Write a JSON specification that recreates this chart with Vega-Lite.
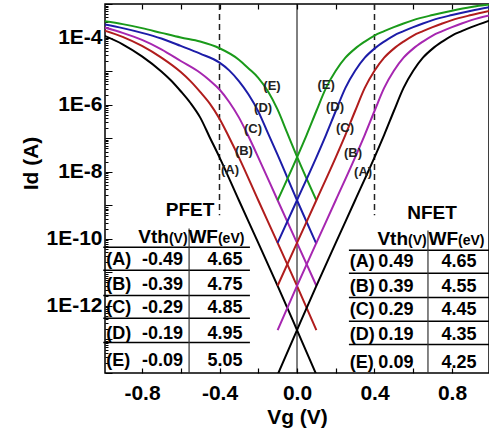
{
  "$schema": "https://vega.github.io/schema/vega-lite/v6.json",
  "width": 384,
  "height": 369,
  "autosize": {"type": "none"},
  "padding": {"left": 105, "top": 4, "right": 0, "bottom": 61},
  "background": "white",
  "config": {"view": {"stroke": "black", "strokeWidth": 1.5}, "font": "Liberation Sans"},
  "datasets": {
    "curves": [
      {"s":"PA","vg":-1,"id":1.17e-4},{"s":"PA","vg":-0.9,"id":6.31e-5},{"s":"PA","vg":-0.8,"id":2.75e-5},{"s":"PA","vg":-0.7,"id":9.77e-6},{"s":"PA","vg":-0.65,"id":5.25e-6},{"s":"PA","vg":-0.6,"id":2.51e-6},{"s":"PA","vg":-0.55,"id":1.12e-6},{"s":"PA","vg":-0.5,"id":4.17e-7},{"s":"PA","vg":-0.45,"id":1.05e-7},{"s":"PA","vg":-0.4,"id":2.69e-8},{"s":"PA","vg":-0.3,"id":1.41e-9},{"s":"PA","vg":-0.2,"id":7.59e-11},{"s":"PA","vg":-0.1,"id":3.98e-12},{"s":"PA","vg":0,"id":1.91e-13},{"s":"PA","vg":0.1,"id":8.91e-15},
      {"s":"PB","vg":-1,"id":1.66e-4},{"s":"PB","vg":-0.9,"id":1.05e-4},{"s":"PB","vg":-0.8,"id":5.62e-5},{"s":"PB","vg":-0.7,"id":2.51e-5},{"s":"PB","vg":-0.6,"id":9.33e-6},{"s":"PB","vg":-0.55,"id":5.01e-6},{"s":"PB","vg":-0.5,"id":2.40e-6},{"s":"PB","vg":-0.45,"id":1.07e-6},{"s":"PB","vg":-0.4,"id":3.80e-7},{"s":"PB","vg":-0.35,"id":1.05e-7},{"s":"PB","vg":-0.3,"id":2.69e-8},{"s":"PB","vg":-0.2,"id":1.41e-9},{"s":"PB","vg":-0.1,"id":7.59e-11},{"s":"PB","vg":0,"id":3.98e-12},{"s":"PB","vg":0.1,"id":1.91e-13},
      {"s":"PC","vg":-1,"id":2.04e-4},{"s":"PC","vg":-0.9,"id":1.38e-4},{"s":"PC","vg":-0.8,"id":8.51e-5},{"s":"PC","vg":-0.7,"id":4.47e-5},{"s":"PC","vg":-0.6,"id":2.00e-5},{"s":"PC","vg":-0.5,"id":8.91e-6},{"s":"PC","vg":-0.45,"id":5.25e-6},{"s":"PC","vg":-0.4,"id":2.82e-6},{"s":"PC","vg":-0.35,"id":1.20e-6},{"s":"PC","vg":-0.3,"id":4.17e-7},{"s":"PC","vg":-0.25,"id":1.12e-7},{"s":"PC","vg":-0.2,"id":2.69e-8},{"s":"PC","vg":-0.1,"id":1.41e-9},{"s":"PC","vg":0,"id":7.59e-11},{"s":"PC","vg":0.1,"id":3.98e-12},
      {"s":"PD","vg":-1,"id":2.51e-4},{"s":"PD","vg":-0.9,"id":1.91e-4},{"s":"PD","vg":-0.8,"id":1.38e-4},{"s":"PD","vg":-0.7,"id":9.33e-5},{"s":"PD","vg":-0.6,"id":5.62e-5},{"s":"PD","vg":-0.5,"id":3.31e-5},{"s":"PD","vg":-0.4,"id":1.78e-5},{"s":"PD","vg":-0.35,"id":1.05e-5},{"s":"PD","vg":-0.3,"id":5.01e-6},{"s":"PD","vg":-0.25,"id":2.00e-6},{"s":"PD","vg":-0.2,"id":6.31e-7},{"s":"PD","vg":-0.15,"id":1.41e-7},{"s":"PD","vg":-0.1,"id":3.16e-8},{"s":"PD","vg":0,"id":1.41e-9},{"s":"PD","vg":0.1,"id":7.08e-11},
      {"s":"PE","vg":-1,"id":3.09e-4},{"s":"PE","vg":-0.9,"id":2.51e-4},{"s":"PE","vg":-0.8,"id":1.91e-4},{"s":"PE","vg":-0.7,"id":1.38e-4},{"s":"PE","vg":-0.6,"id":1.00e-4},{"s":"PE","vg":-0.5,"id":7.59e-5},{"s":"PE","vg":-0.4,"id":4.79e-5},{"s":"PE","vg":-0.3,"id":2.19e-5},{"s":"PE","vg":-0.25,"id":1.20e-5},{"s":"PE","vg":-0.2,"id":6.31e-6},{"s":"PE","vg":-0.15,"id":2.51e-6},{"s":"PE","vg":-0.1,"id":7.08e-7},{"s":"PE","vg":-0.05,"id":1.41e-7},{"s":"PE","vg":0,"id":2.82e-8},{"s":"PE","vg":0.1,"id":1.41e-9},
      {"s":"NA","vg":-0.1,"id":8.91e-15},{"s":"NA","vg":0,"id":1.91e-13},{"s":"NA","vg":0.1,"id":3.98e-12},{"s":"NA","vg":0.2,"id":7.59e-11},{"s":"NA","vg":0.3,"id":1.41e-9},{"s":"NA","vg":0.4,"id":2.69e-8},{"s":"NA","vg":0.45,"id":1.26e-7},{"s":"NA","vg":0.5,"id":6.46e-7},{"s":"NA","vg":0.55,"id":3.16e-6},{"s":"NA","vg":0.6,"id":1.02e-5},{"s":"NA","vg":0.65,"id":2.51e-5},{"s":"NA","vg":0.7,"id":4.68e-5},{"s":"NA","vg":0.75,"id":7.59e-5},{"s":"NA","vg":0.8,"id":1.15e-4},{"s":"NA","vg":0.85,"id":1.55e-4},{"s":"NA","vg":0.9,"id":2.04e-4},{"s":"NA","vg":1.0,"id":3.31e-4},
      {"s":"NB","vg":-0.1,"id":1.91e-13},{"s":"NB","vg":0,"id":3.98e-12},{"s":"NB","vg":0.1,"id":7.59e-11},{"s":"NB","vg":0.2,"id":1.41e-9},{"s":"NB","vg":0.3,"id":2.69e-8},{"s":"NB","vg":0.35,"id":1.26e-7},{"s":"NB","vg":0.4,"id":6.46e-7},{"s":"NB","vg":0.45,"id":3.16e-6},{"s":"NB","vg":0.5,"id":1.02e-5},{"s":"NB","vg":0.55,"id":2.51e-5},{"s":"NB","vg":0.6,"id":4.68e-5},{"s":"NB","vg":0.65,"id":7.59e-5},{"s":"NB","vg":0.7,"id":1.15e-4},{"s":"NB","vg":0.75,"id":1.55e-4},{"s":"NB","vg":0.8,"id":2.04e-4},{"s":"NB","vg":0.85,"id":2.63e-4},{"s":"NB","vg":0.9,"id":3.31e-4},{"s":"NB","vg":1.0,"id":4.68e-4},
      {"s":"NC","vg":-0.1,"id":3.98e-12},{"s":"NC","vg":0,"id":7.59e-11},{"s":"NC","vg":0.1,"id":1.41e-9},{"s":"NC","vg":0.2,"id":2.69e-8},{"s":"NC","vg":0.25,"id":1.26e-7},{"s":"NC","vg":0.3,"id":6.46e-7},{"s":"NC","vg":0.35,"id":3.16e-6},{"s":"NC","vg":0.4,"id":1.02e-5},{"s":"NC","vg":0.45,"id":2.51e-5},{"s":"NC","vg":0.5,"id":4.68e-5},{"s":"NC","vg":0.55,"id":7.59e-5},{"s":"NC","vg":0.6,"id":1.15e-4},{"s":"NC","vg":0.65,"id":1.55e-4},{"s":"NC","vg":0.7,"id":2.04e-4},{"s":"NC","vg":0.75,"id":2.63e-4},{"s":"NC","vg":0.8,"id":3.31e-4},{"s":"NC","vg":0.9,"id":4.68e-4},{"s":"NC","vg":1.0,"id":6.31e-4},
      {"s":"ND","vg":-0.1,"id":7.59e-11},{"s":"ND","vg":0,"id":1.41e-9},{"s":"ND","vg":0.1,"id":2.69e-8},{"s":"ND","vg":0.15,"id":1.26e-7},{"s":"ND","vg":0.2,"id":6.46e-7},{"s":"ND","vg":0.25,"id":3.16e-6},{"s":"ND","vg":0.3,"id":1.02e-5},{"s":"ND","vg":0.35,"id":2.51e-5},{"s":"ND","vg":0.4,"id":4.68e-5},{"s":"ND","vg":0.45,"id":7.59e-5},{"s":"ND","vg":0.5,"id":1.15e-4},{"s":"ND","vg":0.55,"id":1.55e-4},{"s":"ND","vg":0.6,"id":2.04e-4},{"s":"ND","vg":0.65,"id":2.63e-4},{"s":"ND","vg":0.7,"id":3.31e-4},{"s":"ND","vg":0.8,"id":4.68e-4},{"s":"ND","vg":0.9,"id":6.31e-4},{"s":"ND","vg":1.0,"id":8.13e-4},
      {"s":"NE","vg":-0.1,"id":1.41e-9},{"s":"NE","vg":0,"id":2.69e-8},{"s":"NE","vg":0.05,"id":1.26e-7},{"s":"NE","vg":0.1,"id":6.46e-7},{"s":"NE","vg":0.15,"id":3.16e-6},{"s":"NE","vg":0.2,"id":1.02e-5},{"s":"NE","vg":0.25,"id":2.51e-5},{"s":"NE","vg":0.3,"id":4.68e-5},{"s":"NE","vg":0.35,"id":7.59e-5},{"s":"NE","vg":0.4,"id":1.15e-4},{"s":"NE","vg":0.45,"id":1.55e-4},{"s":"NE","vg":0.5,"id":2.04e-4},{"s":"NE","vg":0.55,"id":2.63e-4},{"s":"NE","vg":0.6,"id":3.31e-4},{"s":"NE","vg":0.7,"id":4.68e-4},{"s":"NE","vg":0.8,"id":6.31e-4},{"s":"NE","vg":0.9,"id":8.13e-4},{"s":"NE","vg":1.0,"id":9.77e-4}
    ],
    "table": [
      {"side":"P","lab":"(A)","vth":"-0.49","wf":"4.65","yv":2.29e-11},
      {"side":"P","lab":"(B)","vth":"-0.39","wf":"4.75","yv":4.07e-12},
      {"side":"P","lab":"(C)","vth":"-0.29","wf":"4.85","yv":8.51e-13},
      {"side":"P","lab":"(D)","vth":"-0.19","wf":"4.95","yv":1.41e-13},
      {"side":"P","lab":"(E)","vth":"-0.09","wf":"5.05","yv":2.34e-14},
      {"side":"N","lab":"(A)","vth":"0.49","wf":"4.65","yv":2.0e-11},
      {"side":"N","lab":"(B)","vth":"0.39","wf":"4.55","yv":3.55e-12},
      {"side":"N","lab":"(C)","vth":"0.29","wf":"4.45","yv":7.4e-13},
      {"side":"N","lab":"(D)","vth":"0.19","wf":"4.35","yv":1.32e-13},
      {"side":"N","lab":"(E)","vth":"0.09","wf":"4.25","yv":2.04e-14}
    ],
    "hlines": [
      {"xa":-1,"xb":-0.243,"yv":5.62e-11},{"xa":-1,"xb":-0.243,"yv":1.15e-11},{"xa":-1,"xb":-0.243,"yv":2.04e-12},{"xa":-1,"xb":-0.243,"yv":4.27e-13},{"xa":-1,"xb":-0.243,"yv":8.13e-14},
      {"xa":0.268,"xb":1,"yv":4.57e-11},{"xa":0.268,"xb":1,"yv":9.33e-12},{"xa":0.268,"xb":1,"yv":1.78e-12},{"xa":0.268,"xb":1,"yv":3.47e-13},{"xa":0.268,"xb":1,"yv":7.08e-14}
    ],
    "vlines": [
      {"xv":-0.557,"ya":2.04e-10,"yb":1e-14},
      {"xv":0.676,"ya":1.78e-10,"yb":1e-14}
    ],
    "hdr": [
      {"part":"main","t":"Vth","xv":-0.661,"yv":7.4e-11},
      {"part":"unit","t":"(V)","xv":-0.661,"yv":7.4e-11},
      {"part":"main","t":"WF","xv":-0.408,"yv":7.4e-11},
      {"part":"unit","t":"(eV)","xv":-0.408,"yv":7.4e-11},
      {"part":"main","t":"Vth","xv":0.573,"yv":6.5e-11},
      {"part":"unit","t":"(V)","xv":0.573,"yv":6.5e-11},
      {"part":"main","t":"WF","xv":0.831,"yv":6.5e-11},
      {"part":"unit","t":"(eV)","xv":0.831,"yv":6.5e-11}
    ],
    "titles": [
      {"t":"PFET","xv":-0.552,"yv":7.08e-10},
      {"t":"NFET","xv":0.697,"yv":5.75e-10}
    ],
    "clabels": [
      {"t":"(A)","xv":-0.346,"yv":1.10e-8},
      {"t":"(B)","xv":-0.274,"yv":4.07e-8},
      {"t":"(C)","xv":-0.227,"yv":1.86e-7},
      {"t":"(D)","xv":-0.175,"yv":7.94e-7},
      {"t":"(E)","xv":-0.129,"yv":3.55e-6},
      {"t":"(A)","xv":0.341,"yv":9.77e-9},
      {"t":"(B)","xv":0.289,"yv":3.55e-8},
      {"t":"(C)","xv":0.248,"yv":2.0e-7},
      {"t":"(D)","xv":0.196,"yv":8.5e-7},
      {"t":"(E)","xv":0.150,"yv":3.8e-6}
    ]
  },
  "resolve": {"axis": {"x": "independent", "y": "independent"}},
  "layer": [
    {
      "data": {"name": "hlines"},
      "mark": {"type": "rule", "color": "black", "strokeWidth": 1.5},
      "encoding": {
        "x": {"field": "xa", "type": "quantitative", "scale": {"domain": [-0.991, 0.991], "nice": false, "zero": false},
          "axis": {"orient": "bottom", "title": "Vg (V)", "values": [-0.8,-0.6,-0.4,-0.2,0,0.2,0.4,0.6,0.8],
            "labelExpr": "abs((datum.value*10) % 4) < 0.01 ? (datum.value < -0.01 ? '-' : '') + format(abs(datum.value), '.1f') : ''",
            "labelFont": "Liberation Sans", "labelFontSize": 21, "labelFontWeight": "bold", "labelColor": "black", "labelPadding": 14,
            "tickSize": -5, "tickColor": "black", "tickWidth": 1.2, "domain": false, "grid": false,
            "titleFont": "Liberation Sans", "titleFontSize": 21, "titleFontWeight": "bold", "titleColor": "black",
            "titleBaseline": "alphabetic", "titleY": 50}},
        "x2": {"field": "xb"},
        "y": {"field": "yv", "type": "quantitative", "scale": {"type": "log", "domain": [1e-14, 1e-3], "nice": false},
          "axis": {"orient": "left", "title": "Id (A)",
            "values": [1e-14,2e-14,3e-14,4e-14,5e-14,6e-14,7e-14,8e-14,9e-14,1e-13,2e-13,3e-13,4e-13,5e-13,6e-13,7e-13,8e-13,9e-13,1e-12,2e-12,3e-12,4e-12,5e-12,6e-12,7e-12,8e-12,9e-12,1e-11,2e-11,3e-11,4e-11,5e-11,6e-11,7e-11,8e-11,9e-11,1e-10,2e-10,3e-10,4e-10,5e-10,6e-10,7e-10,8e-10,9e-10,1e-9,2e-9,3e-9,4e-9,5e-9,6e-9,7e-9,8e-9,9e-9,1e-8,2e-8,3e-8,4e-8,5e-8,6e-8,7e-8,8e-8,9e-8,1e-7,2e-7,3e-7,4e-7,5e-7,6e-7,7e-7,8e-7,9e-7,1e-6,2e-6,3e-6,4e-6,5e-6,6e-6,7e-6,8e-6,9e-6,1e-5,2e-5,3e-5,4e-5,5e-5,6e-5,7e-5,8e-5,9e-5,1e-4,2e-4,3e-4,4e-4,5e-4,6e-4,7e-4,8e-4,9e-4,1e-3],
            "labelExpr": "(indexof([-12,-10,-8,-6,-4], round(log(datum.value)/LN10)) >= 0 && abs(log(datum.value)/LN10 - round(log(datum.value)/LN10)) < 0.001) ? '1E' + round(log(datum.value)/LN10) : ''",
            "tickSize": {"condition": {"test": "abs(log(datum.value)/LN10 - round(log(datum.value)/LN10)) < 0.001", "value": -7}, "value": -3},
            "tickColor": "black", "tickWidth": 1, "domain": false, "grid": false,
            "labelFont": "Liberation Sans", "labelFontSize": 21, "labelFontWeight": "bold", "labelColor": "black", "labelPadding": 10,
            "titleFont": "Liberation Sans", "titleFontSize": 21, "titleFontWeight": "bold", "titleColor": "black",
            "titleX": -68, "titleY": 159, "titleBaseline": "alphabetic", "titleAngle": -90, "titleAlign": "center"}}
      }
    },
    {
      "data": {"name": "vlines"},
      "mark": {"type": "rule", "color": "#333333", "strokeWidth": 1.2},
      "encoding": {
        "x": {"field": "xv", "type": "quantitative", "axis": null},
        "y": {"field": "ya", "type": "quantitative", "axis": null},
        "y2": {"field": "yb"}
      }
    },
    {
      "data": {"values": [{"vg": 0}]},
      "mark": {"type": "rule", "color": "black", "strokeWidth": 1},
      "encoding": {
        "x": {"field": "vg", "type": "quantitative",
          "axis": {"orient": "top", "values": [-0.8,-0.6,-0.4,-0.2,0,0.2,0.4,0.6,0.8], "labels": false, "tickSize": -5, "tickColor": "black", "tickWidth": 1.2, "domain": false, "grid": false, "title": null}}
      }
    },
    {
      "data": {"values": [{"vg": -0.4}, {"vg": 0.4}]},
      "mark": {"type": "rule", "color": "#222222", "strokeWidth": 1.5, "strokeDash": [6, 4]},
      "encoding": {
        "x": {"field": "vg", "type": "quantitative", "axis": null},
        "y": {"datum": 1e-3, "axis": null},
        "y2": {"datum": 5e-10}
      }
    },
    {
      "data": {"name": "curves"},
      "mark": {"type": "line", "interpolate": "monotone", "strokeWidth": 2, "clip": true},
      "encoding": {
        "x": {"field": "vg", "type": "quantitative", "axis": null},
        "y": {"field": "id", "type": "quantitative", "axis": null},
        "color": {"field": "s", "type": "nominal", "legend": null,
          "scale": {"domain": ["PA","PB","PC","PD","PE","NA","NB","NC","ND","NE"],
            "range": ["#000000","#b01c1c","#a626b0","#1c1ca8","#1a9a1a","#000000","#a626b0","#b01c1c","#1c1ca8","#1a9a1a"]}}
      }
    },
    {
      "data": {"name": "table"},
      "transform": [{"filter": "datum.side == 'P'"}],
      "mark": {"type": "text", "align": "left", "baseline": "middle", "font": "Liberation Sans", "fontSize": 18, "fontWeight": "bold", "color": "black"},
      "encoding": {"x": {"datum": -0.985, "axis": null}, "y": {"field": "yv", "type": "quantitative", "axis": null}, "text": {"field": "lab"}}
    },
    {
      "data": {"name": "table"},
      "transform": [{"filter": "datum.side == 'P'"}],
      "mark": {"type": "text", "align": "right", "baseline": "middle", "font": "Liberation Sans", "fontSize": 18, "fontWeight": "bold", "color": "black"},
      "encoding": {"x": {"datum": -0.588, "axis": null}, "y": {"field": "yv", "type": "quantitative", "axis": null}, "text": {"field": "vth"}}
    },
    {
      "data": {"name": "table"},
      "transform": [{"filter": "datum.side == 'P'"}],
      "mark": {"type": "text", "align": "center", "baseline": "middle", "font": "Liberation Sans", "fontSize": 18, "fontWeight": "bold", "color": "black"},
      "encoding": {"x": {"datum": -0.372, "axis": null}, "y": {"field": "yv", "type": "quantitative", "axis": null}, "text": {"field": "wf"}}
    },
    {
      "data": {"name": "table"},
      "transform": [{"filter": "datum.side == 'N'"}],
      "mark": {"type": "text", "align": "left", "baseline": "middle", "font": "Liberation Sans", "fontSize": 18, "fontWeight": "bold", "color": "black"},
      "encoding": {"x": {"datum": 0.272, "axis": null}, "y": {"field": "yv", "type": "quantitative", "axis": null}, "text": {"field": "lab"}}
    },
    {
      "data": {"name": "table"},
      "transform": [{"filter": "datum.side == 'N'"}],
      "mark": {"type": "text", "align": "left", "baseline": "middle", "font": "Liberation Sans", "fontSize": 18, "fontWeight": "bold", "color": "black"},
      "encoding": {"x": {"datum": 0.42, "axis": null}, "y": {"field": "yv", "type": "quantitative", "axis": null}, "text": {"field": "vth"}}
    },
    {
      "data": {"name": "table"},
      "transform": [{"filter": "datum.side == 'N'"}],
      "mark": {"type": "text", "align": "center", "baseline": "middle", "font": "Liberation Sans", "fontSize": 18, "fontWeight": "bold", "color": "black"},
      "encoding": {"x": {"datum": 0.836, "axis": null}, "y": {"field": "yv", "type": "quantitative", "axis": null}, "text": {"field": "wf"}}
    },
    {
      "data": {"name": "hdr"},
      "transform": [{"filter": "datum.part == 'main'"}],
      "mark": {"type": "text", "align": "right", "baseline": "alphabetic", "font": "Liberation Sans", "fontSize": 19, "fontWeight": "bold", "color": "black"},
      "encoding": {"x": {"field": "xv", "type": "quantitative", "axis": null}, "y": {"field": "yv", "type": "quantitative", "axis": null}, "text": {"field": "t"}}
    },
    {
      "data": {"name": "hdr"},
      "transform": [{"filter": "datum.part == 'unit'"}],
      "mark": {"type": "text", "align": "left", "baseline": "alphabetic", "font": "Liberation Sans", "fontSize": 14, "fontWeight": "bold", "color": "black"},
      "encoding": {"x": {"field": "xv", "type": "quantitative", "axis": null}, "y": {"field": "yv", "type": "quantitative", "axis": null}, "text": {"field": "t"}}
    },
    {
      "data": {"name": "titles"},
      "mark": {"type": "text", "align": "center", "baseline": "middle", "font": "Liberation Sans", "fontSize": 19, "fontWeight": "bold", "color": "black"},
      "encoding": {"x": {"field": "xv", "type": "quantitative", "axis": null}, "y": {"field": "yv", "type": "quantitative", "axis": null}, "text": {"field": "t"}}
    },
    {
      "data": {"name": "clabels"},
      "mark": {"type": "text", "align": "center", "baseline": "middle", "font": "Liberation Sans", "fontSize": 13, "fontWeight": "bold", "color": "#222222"},
      "encoding": {"x": {"field": "xv", "type": "quantitative", "axis": null}, "y": {"field": "yv", "type": "quantitative", "axis": null}, "text": {"field": "t"}}
    }
  ]
}
